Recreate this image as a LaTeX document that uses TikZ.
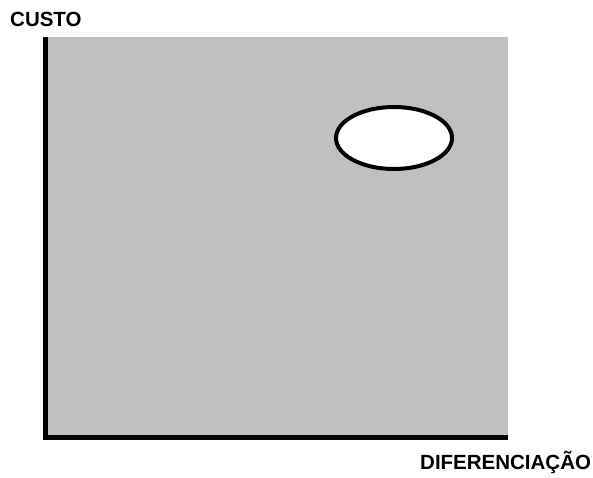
\documentclass[tikz,border=0pt]{standalone}
\usepackage{fontspec}
\setmainfont{Liberation Sans}
\tikzset{
  axislbl/.style={anchor=base west, inner sep=0pt, font=\bfseries\fontsize{20.5}{22}\selectfont},
  axisline/.style={line width=5pt, black},
}
\begin{document}
\begin{tikzpicture}[x=1pt,y=-1pt]
\useasboundingbox (0,0) rectangle (593,477);
\fill[fill={rgb,255:red,192;green,192;blue,192}] (45.5,37) rectangle (507.5,437.5);
\coordinate (top) at (45.7,37);
\coordinate (origin) at (45.7,437.5);
\coordinate (right) at (507.5,437.5);
\draw[axisline] (top) -- ([yshift=2.5pt]origin);
\draw[axisline] ([xshift=-2.5pt]origin) -- (right);
\draw[line width=4pt, fill=white] (394,138) ellipse [x radius=58, y radius=31];
\node[axislbl] (custo) at (10,26.5) {CUSTO};
\node[axislbl] (dif) at (420,469.3) {DIFERENCIAÇÃO};
\end{tikzpicture}
\end{document}
